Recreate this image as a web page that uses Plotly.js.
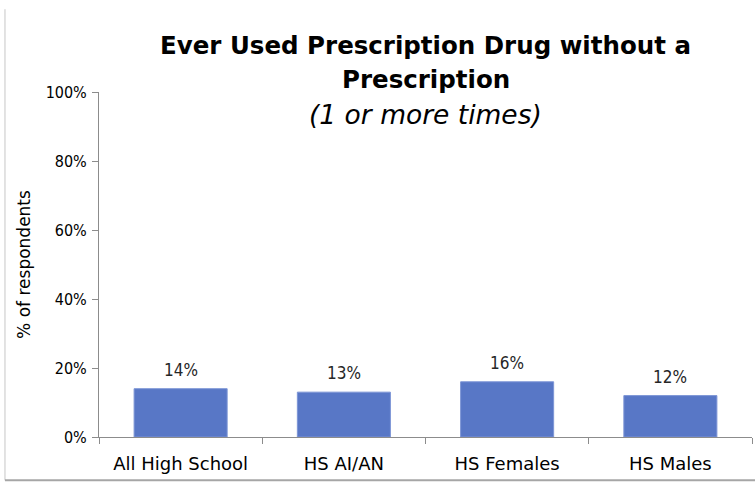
<!DOCTYPE html>
<html>
<head>
<meta charset="utf-8">
<script src="https://cdn.plot.ly/plotly-3.0.1.min.js"></script>
<style>html,body{margin:0;padding:0;background:#fff;}#chart{width:755px;height:483px;}</style>
</head>
<body>
<div id="chart"></div>
<script>
const categories = ["All High School", "HS AI/AN", "HS Females", "HS Males"];
const values = [14, 13, 16, 12];
const yTickVals = [0, 20, 40, 60, 80, 100];
const yTickText = ["0%", "20%", "40%", "60%", "80%", "100%"];
const titleLine1 = "Ever Used Prescription Drug without a";
const titleLine2 = "Prescription";
const subtitle = "(1 or more times)";
const yTitle = "% of respondents";

const font = "'DejaVu Sans', sans-serif";
const numFont = "'DejaVu Sans Condensed', sans-serif";
const titleFont = "'DejaVu Sans', sans-serif";

const trace = {
  type: "bar",
  x: categories,
  y: values,
  marker: {color: "#5877C6", line: {color: "#7d95d6", width: 1}},
  width: 0.57,
  hoverinfo: "skip"
};

const labelAnnotations = categories.map((c, i) => ({
  x: c, y: values[i], xref: "x", yref: "y",
  text: values[i] + "%", showarrow: false,
  xanchor: "center", yanchor: "bottom", yshift: 7,
  font: {family: numFont, size: 17, color: "#262626"}
}));

const layout = {
  width: 755,
  height: 483,
  margin: {l: 99, r: 3, t: 92, b: 46},
  paper_bgcolor: "#ffffff",
  plot_bgcolor: "#ffffff",
  showlegend: false,
  font: {family: font, color: "#262626", size: 17},
  annotations: [
    {text: "<b>" + titleLine1 + "</b>", xref: "paper", yref: "paper", x: 0.5, y: 1.136, xanchor: "center", yanchor: "middle", showarrow: false,
     font: {family: titleFont, size: 24.5, color: "#000000"}},
    {text: "<b>" + titleLine2 + "</b>", xref: "paper", yref: "paper", x: 0.5, y: 1.035, xanchor: "center", yanchor: "middle", showarrow: false,
     font: {family: titleFont, size: 24.5, color: "#000000"}},
    {text: "<i>" + subtitle + "</i>", xref: "paper", yref: "paper", x: 0.5, y: 0.935, xanchor: "center", yanchor: "middle", showarrow: false,
     font: {family: titleFont, size: 26.5, color: "#000000"}}
  ].concat(labelAnnotations),
  xaxis: {
    type: "category",
    showline: true, linecolor: "#8c8c8c", linewidth: 1,
    ticks: "outside", ticklen: 6, tickcolor: "#8c8c8c",
    tickson: "boundaries",
    ticklabelstandoff: 10,
    showgrid: false, zeroline: false,
    tickfont: {family: font, size: 18, color: "#000000"},
    fixedrange: true
  },
  yaxis: {
    range: [0, 100],
    tickvals: yTickVals, ticktext: yTickText,
    showline: true, linecolor: "#8c8c8c", linewidth: 1,
    ticks: "outside", ticklen: 6, tickcolor: "#8c8c8c",
    ticklabelstandoff: 2,
    showgrid: false, zeroline: false,
    tickfont: {family: numFont, size: 16, color: "#000000"},
    title: {text: yTitle, font: {family: font, size: 17, color: "#000000"}, standoff: 10},
    fixedrange: true
  },
  bargap: 0.43,
  shapes: [
    {type: "line", xref: "paper", yref: "paper", x0: -0.144, x1: -0.144, y0: 1.24, y1: -0.125, line: {color: "#d9d9d9", width: 1.5}},
    {type: "line", xref: "paper", yref: "paper", x0: -0.144, x1: 1.01, y0: -0.125, y1: -0.125, line: {color: "#a6a6a6", width: 2}}
  ]
};

Plotly.newPlot("chart", [trace], layout, {displayModeBar: false, staticPlot: true});
</script>
</body>
</html>
